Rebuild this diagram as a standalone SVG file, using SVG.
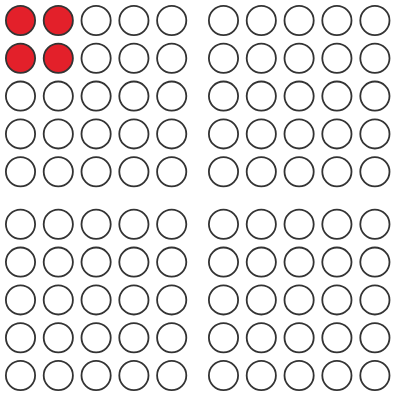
<svg xmlns="http://www.w3.org/2000/svg" width="395" height="399" viewBox="0 0 395 399">
<style>
circle{fill:#fff;stroke:#333;stroke-width:1.8}
circle.on{fill:#e3202a}
</style>
<rect width="395" height="399" fill="#fff"/>
<g id="grid-tl">
<circle class="on" cx="20.5" cy="20.5" r="14.6"/><circle class="on" cx="58.3" cy="20.5" r="14.6"/><circle cx="96.1" cy="20.5" r="14.6"/><circle cx="133.9" cy="20.5" r="14.6"/><circle cx="171.7" cy="20.5" r="14.6"/>
<circle class="on" cx="20.5" cy="58.3" r="14.6"/><circle class="on" cx="58.3" cy="58.3" r="14.6"/><circle cx="96.1" cy="58.3" r="14.6"/><circle cx="133.9" cy="58.3" r="14.6"/><circle cx="171.7" cy="58.3" r="14.6"/>
<circle cx="20.5" cy="96.1" r="14.6"/><circle cx="58.3" cy="96.1" r="14.6"/><circle cx="96.1" cy="96.1" r="14.6"/><circle cx="133.9" cy="96.1" r="14.6"/><circle cx="171.7" cy="96.1" r="14.6"/>
<circle cx="20.5" cy="133.9" r="14.6"/><circle cx="58.3" cy="133.9" r="14.6"/><circle cx="96.1" cy="133.9" r="14.6"/><circle cx="133.9" cy="133.9" r="14.6"/><circle cx="171.7" cy="133.9" r="14.6"/>
<circle cx="20.5" cy="171.7" r="14.6"/><circle cx="58.3" cy="171.7" r="14.6"/><circle cx="96.1" cy="171.7" r="14.6"/><circle cx="133.9" cy="171.7" r="14.6"/><circle cx="171.7" cy="171.7" r="14.6"/>
</g>
<g id="grid-tr">
<circle cx="223.5" cy="20.5" r="14.6"/><circle cx="261.3" cy="20.5" r="14.6"/><circle cx="299.1" cy="20.5" r="14.6"/><circle cx="336.9" cy="20.5" r="14.6"/><circle cx="374.9" cy="20.5" r="14.6"/>
<circle cx="223.5" cy="58.3" r="14.6"/><circle cx="261.3" cy="58.3" r="14.6"/><circle cx="299.1" cy="58.3" r="14.6"/><circle cx="336.9" cy="58.3" r="14.6"/><circle cx="374.9" cy="58.3" r="14.6"/>
<circle cx="223.5" cy="96.1" r="14.6"/><circle cx="261.3" cy="96.1" r="14.6"/><circle cx="299.1" cy="96.1" r="14.6"/><circle cx="336.9" cy="96.1" r="14.6"/><circle cx="374.9" cy="96.1" r="14.6"/>
<circle cx="223.5" cy="133.9" r="14.6"/><circle cx="261.3" cy="133.9" r="14.6"/><circle cx="299.1" cy="133.9" r="14.6"/><circle cx="336.9" cy="133.9" r="14.6"/><circle cx="374.9" cy="133.9" r="14.6"/>
<circle cx="223.5" cy="171.7" r="14.6"/><circle cx="261.3" cy="171.7" r="14.6"/><circle cx="299.1" cy="171.7" r="14.6"/><circle cx="336.9" cy="171.7" r="14.6"/><circle cx="374.9" cy="171.7" r="14.6"/>
</g>
<g id="grid-bl">
<circle cx="20.5" cy="224.3" r="14.6"/><circle cx="58.3" cy="224.3" r="14.6"/><circle cx="96.1" cy="224.3" r="14.6"/><circle cx="133.9" cy="224.3" r="14.6"/><circle cx="171.7" cy="224.3" r="14.6"/>
<circle cx="20.5" cy="262.1" r="14.6"/><circle cx="58.3" cy="262.1" r="14.6"/><circle cx="96.1" cy="262.1" r="14.6"/><circle cx="133.9" cy="262.1" r="14.6"/><circle cx="171.7" cy="262.1" r="14.6"/>
<circle cx="20.5" cy="299.9" r="14.6"/><circle cx="58.3" cy="299.9" r="14.6"/><circle cx="96.1" cy="299.9" r="14.6"/><circle cx="133.9" cy="299.9" r="14.6"/><circle cx="171.7" cy="299.9" r="14.6"/>
<circle cx="20.5" cy="337.7" r="14.6"/><circle cx="58.3" cy="337.7" r="14.6"/><circle cx="96.1" cy="337.7" r="14.6"/><circle cx="133.9" cy="337.7" r="14.6"/><circle cx="171.7" cy="337.7" r="14.6"/>
<circle cx="20.5" cy="375.5" r="14.6"/><circle cx="58.3" cy="375.5" r="14.6"/><circle cx="96.1" cy="375.5" r="14.6"/><circle cx="133.9" cy="375.5" r="14.6"/><circle cx="171.7" cy="375.5" r="14.6"/>
</g>
<g id="grid-br">
<circle cx="223.5" cy="224.3" r="14.6"/><circle cx="261.3" cy="224.3" r="14.6"/><circle cx="299.1" cy="224.3" r="14.6"/><circle cx="336.9" cy="224.3" r="14.6"/><circle cx="374.9" cy="224.3" r="14.6"/>
<circle cx="223.5" cy="262.1" r="14.6"/><circle cx="261.3" cy="262.1" r="14.6"/><circle cx="299.1" cy="262.1" r="14.6"/><circle cx="336.9" cy="262.1" r="14.6"/><circle cx="374.9" cy="262.1" r="14.6"/>
<circle cx="223.5" cy="299.9" r="14.6"/><circle cx="261.3" cy="299.9" r="14.6"/><circle cx="299.1" cy="299.9" r="14.6"/><circle cx="336.9" cy="299.9" r="14.6"/><circle cx="374.9" cy="299.9" r="14.6"/>
<circle cx="223.5" cy="337.7" r="14.6"/><circle cx="261.3" cy="337.7" r="14.6"/><circle cx="299.1" cy="337.7" r="14.6"/><circle cx="336.9" cy="337.7" r="14.6"/><circle cx="374.9" cy="337.7" r="14.6"/>
<circle cx="223.5" cy="375.5" r="14.6"/><circle cx="261.3" cy="375.5" r="14.6"/><circle cx="299.1" cy="375.5" r="14.6"/><circle cx="336.9" cy="375.5" r="14.6"/><circle cx="374.9" cy="375.5" r="14.6"/>
</g>
</svg>
